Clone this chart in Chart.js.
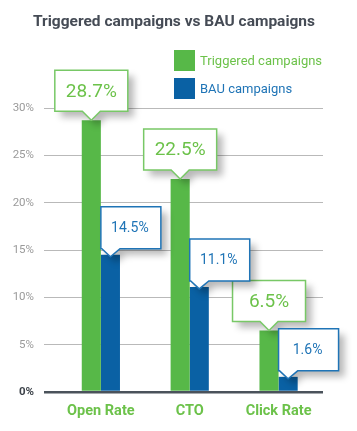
<!DOCTYPE html>
<html><head><meta charset="utf-8">
<script src="https://cdn.jsdelivr.net/npm/chart.js@4"></script>
<style>html,body{margin:0;padding:0;background:#fff;}#wrap{width:357px;height:431px;position:relative;}</style>
</head><body><div id="wrap"><canvas id="c" width="357" height="431"></canvas></div>
<script>
const categories = ["Open Rate", "CTO", "Click Rate"];
const seriesNames = ["Triggered campaigns", "BAU campaigns"];
const triggered = [28.7, 22.5, 6.5];
const bau = [14.5, 11.1, 1.6];
const yTicks = [0, 5, 10, 15, 20, 25, 30];
const title = "Triggered campaigns vs BAU campaigns";

const GREEN = "#57b848", GREEN_TXT = "#6cc24a", GREEN_LINE = "#78c866";
const BLUE = "#0a61a4", BLUE_TXT = "#1f74b6", BLUE_LINE = "#1f74b6";
const FONT = "Roboto, 'DejaVu Sans', sans-serif";
const seriesValues = [triggered, bau];

const calloutPlugin = {
  id: 'callouts',
  afterDatasetsDraw(chart) {
    const ctx = chart.ctx;
    chart.data.datasets.forEach((ds, di) => {
      const meta = chart.getDatasetMeta(di);
      meta.data.forEach((bar, i) => {
        const v = seriesValues[di][i];
        const bx = bar.x, by = bar.y, bw = bar.width;
        let left, top, w, h, triL, triR, tipY, color, txtColor, fsize;
        if (di === 0) {
          w = 73; h = 41; left = bx - w / 2; top = by - 9 - h;
          triL = bx - 9; triR = bx + 9; tipY = by;
          color = GREEN_LINE; txtColor = GREEN_TXT; fsize = 19;
        } else {
          w = 60; h = 42; left = bx - bw / 2; top = by - 6 - h;
          triL = left + 1; triR = left + bw; tipY = by + 2;
          color = BLUE_LINE; txtColor = BLUE_TXT; fsize = 14;
        }
        const bottom = top + h;
        const path = () => {
          ctx.beginPath();
          ctx.moveTo(left, top);
          ctx.lineTo(left + w, top);
          ctx.lineTo(left + w, bottom);
          ctx.lineTo(triR, bottom);
          ctx.lineTo(bx, tipY);
          ctx.lineTo(triL, bottom);
          ctx.lineTo(left, bottom);
          ctx.closePath();
        };
        ctx.save();
        ctx.shadowColor = "rgba(0,0,0,0.28)";
        ctx.shadowBlur = 7;
        ctx.shadowOffsetX = 6;
        ctx.shadowOffsetY = 6;
        path();
        ctx.fillStyle = "#fff";
        ctx.fill();
        ctx.restore();
        ctx.save();
        path();
        ctx.fillStyle = "#fff";
        ctx.fill();
        ctx.lineWidth = 1.5;
        ctx.strokeStyle = color;
        ctx.stroke();
        ctx.fillStyle = txtColor;
        ctx.font = fsize + "px " + FONT;
        ctx.textAlign = "center";
        ctx.textBaseline = "middle";
        const tx = di === 0 ? left + w / 2 : left + w / 2 - 1;
        ctx.fillText(v.toFixed(1) + "%", tx, top + h / 2 + 1);
        ctx.restore();
      });
    });
  },
  afterDraw(chart) {
    const ctx = chart.ctx;
    ctx.save();
    ctx.fillStyle = "#454b55";
    ctx.font = "bold 15.5px " + FONT;
    ctx.textAlign = "center";
    ctx.textBaseline = "middle";
    ctx.fillText(title, 174, 22);
    const cols = [[GREEN, GREEN_TXT], [BLUE, BLUE_TXT]];
    seriesNames.forEach((n, i) => {
      const y = 50 + i * 28;
      ctx.fillStyle = cols[i][0];
      ctx.fillRect(174, y, 21, 21);
      ctx.fillStyle = cols[i][1];
      ctx.font = "13px " + FONT;
      ctx.textAlign = "left";
      ctx.fillText(n, 200, y + 11.5);
    });
    ctx.restore();
  }
};

new Chart(document.getElementById('c'), {
  type: 'bar',
  data: {
    datasets: [
      { label: seriesNames[0], data: triggered.map((v, i) => ({ x: i, y: v })), backgroundColor: GREEN, categoryPercentage: 0.43, barPercentage: 1 },
      { label: seriesNames[1], data: bau.map((v, i) => ({ x: i, y: v })), backgroundColor: BLUE, categoryPercentage: 0.43, barPercentage: 1 }
    ]
  },
  options: {
    responsive: false,
    animation: false,
    layout: { padding: { top: 108, right: 34, left: 0, bottom: 0 } },
    plugins: { legend: { display: false }, tooltip: { enabled: false }, title: { display: false } },
    scales: {
      x: {
        type: 'linear', min: -0.64, max: 2.5, offset: false,
        grid: { display: false }, border: { display: false },
        afterBuildTicks: (s) => { s.ticks = categories.map((c, i) => ({ value: i })); },
        afterFit: (s) => { s.height = 39; },
        ticks: {
          padding: 3,
          color: "#6cc24a",
          font: { family: FONT, size: 14.5, weight: 'bold' },
          callback: (v) => categories[v] ?? ''
        }
      },
      y: {
        min: 0, max: 30,
        afterBuildTicks: (s) => { s.ticks = yTicks.map(v => ({ value: v })); },
        afterFit: (s) => { s.width = 44; },
        border: { display: false },
        grid: {
          drawTicks: false,
          color: (c) => c.tick && c.tick.value === 0 ? "#4a525b" : "#b9b9b9",
          lineWidth: (c) => c.tick && c.tick.value === 0 ? 2.5 : 1
        },
        ticks: {
          padding: 10,
          color: (c) => c.tick && c.tick.value === 0 ? "#3f454c" : "#9a9a9a",
          font: (c) => ({ family: FONT, size: 11.5, weight: c.tick && c.tick.value === 0 ? 'bold' : 'normal' }),
          callback: (v) => v + "%"
        }
      }
    }
  },
  plugins: [calloutPlugin]
});
</script></body></html>
